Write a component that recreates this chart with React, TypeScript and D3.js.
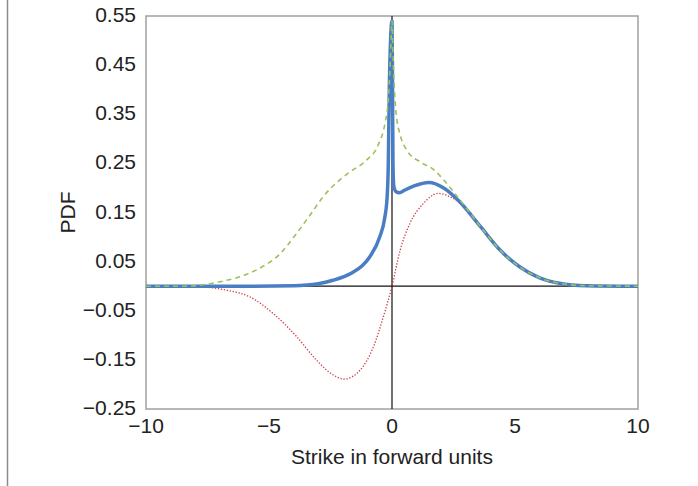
import React, { useRef, useEffect } from 'react';
import * as d3 from 'd3';

// Strike (forward units) / PDF values
const totalPdf: [number, number][] = [
  [-10, 0], [-6, 0], [-4, 0.001], [-3, 0.005], [-2.4, 0.012], [-1.6, 0.028],
  [-1.2, 0.042], [-0.9, 0.06], [-0.5, 0.1], [-0.3, 0.138], [-0.2, 0.18],
  [-0.15, 0.25], [-0.11, 0.4], [-0.05, 0.51], [0, 0.54], [0.02, 0.42],
  [0.04, 0.25], [0.07, 0.205], [0.15, 0.193], [0.3, 0.19], [0.5, 0.195],
  [0.9, 0.204], [1.5, 0.211], [2.1, 0.2], [2.75, 0.172], [3.6, 0.121],
  [4.4, 0.073], [5.2, 0.039], [6, 0.017], [6.8, 0.006], [7.9, 0.001], [10, 0],
];

const upperPdf: [number, number][] = [
  [-10, 0], [-8.5, 0], [-7.8, 0.002], [-7, 0.009], [-6.2, 0.019], [-5.4, 0.036],
  [-4.55, 0.066], [-3.9, 0.106], [-3.3, 0.147], [-2.8, 0.182], [-2.25, 0.211],
  [-1.7, 0.233], [-1.05, 0.256], [-0.55, 0.289], [-0.28, 0.333], [-0.15, 0.38],
  [-0.08, 0.446], [-0.03, 0.51], [0, 0.54], [0.03, 0.49], [0.08, 0.42],
  [0.15, 0.36], [0.35, 0.305], [0.6, 0.277], [1.14, 0.253], [1.68, 0.238],
  [2.0, 0.222], [2.63, 0.184], [3.6, 0.121], [4.4, 0.073], [5.2, 0.039],
  [6, 0.017], [6.8, 0.006], [7.9, 0.001], [10, 0],
];

const lowerPdf: [number, number][] = [
  [-10, 0], [-8.5, 0], [-7.8, -0.001], [-6.86, -0.007], [-5.77, -0.022],
  [-4.82, -0.056], [-3.87, -0.103], [-3.06, -0.151], [-2.38, -0.181],
  [-1.95, -0.189], [-1.3, -0.171], [-0.76, -0.124], [-0.35, -0.062], [0, 0],
  [0.33, 0.073], [0.73, 0.128], [1.27, 0.168], [1.88, 0.189], [2.36, 0.182],
  [2.75, 0.17], [3.6, 0.121], [4.4, 0.073], [5.2, 0.039], [6, 0.017],
  [6.8, 0.006], [7.9, 0.001], [10, 0],
];

const xTicks = [-10, -5, 0, 5, 10];
const yTicks = [0.55, 0.45, 0.35, 0.25, 0.15, 0.05, -0.05, -0.15, -0.25];

const W = 698;
const H = 486;

const App = () => {
  const ref = useRef<SVGSVGElement>(null);

  useEffect(() => {
    if (!ref.current) return;
    const svg = d3.select(ref.current);
    svg.selectAll('*').remove();

    const font = '"Liberation Sans", Arial, Helvetica, sans-serif';
    const left = 146, right = 638, top = 16, bottom = 409;

    const x = d3.scaleLinear().domain([-10, 10]).range([left, right]);
    const y = d3.scaleLinear().domain([-0.25, 0.55]).range([bottom, top]);

    // page frame line on the left
    svg.append('line')
      .attr('x1', 7.5).attr('x2', 7.5).attr('y1', 0).attr('y2', H)
      .attr('stroke', '#8a8a8a').attr('stroke-width', 1.5);

    // plot box
    svg.append('rect')
      .attr('x', left).attr('y', top)
      .attr('width', right - left).attr('height', bottom - top)
      .attr('fill', 'none').attr('stroke', '#a0a0a0').attr('stroke-width', 1.5);

    // zero axes
    svg.append('line')
      .attr('x1', x(0)).attr('x2', x(0)).attr('y1', top).attr('y2', bottom)
      .attr('stroke', '#111').attr('stroke-width', 1.2);
    svg.append('line')
      .attr('x1', left).attr('x2', right).attr('y1', y(0)).attr('y2', y(0))
      .attr('stroke', '#111').attr('stroke-width', 1.2);

    const line = d3.line<[number, number]>()
      .x(d => x(d[0]))
      .y(d => y(d[1]))
      .curve(d3.curveMonotoneX);

    svg.append('path')
      .datum(lowerPdf)
      .attr('fill', 'none')
      .attr('stroke', '#d0393e')
      .attr('stroke-width', 1.3)
      .attr('stroke-dasharray', '1.3,1.7')
      .attr('d', line);

    svg.append('path')
      .datum(totalPdf)
      .attr('fill', 'none')
      .attr('stroke', '#4a7ec4')
      .attr('stroke-width', 3.5)
      .attr('stroke-linejoin', 'round')
      .attr('d', line);

    svg.append('path')
      .datum(upperPdf)
      .attr('fill', 'none')
      .attr('stroke', '#9cc05a')
      .attr('stroke-width', 1.6)
      .attr('stroke-dasharray', '5,4')
      .attr('d', line);

    const fs = 21;

    // y tick labels
    svg.append('g')
      .selectAll('text')
      .data(yTicks)
      .join('text')
      .attr('x', 136)
      .attr('y', d => y(d))
      .attr('dy', '0.29em')
      .attr('text-anchor', 'end')
      .attr('font-family', font)
      .attr('font-size', fs)
      .attr('fill', '#222')
      .text(d => (d < 0 ? '\u2212' + d3.format('.2f')(-d) : d3.format('.2f')(d)));

    // x tick labels
    svg.append('g')
      .selectAll('text')
      .data(xTicks)
      .join('text')
      .attr('x', d => x(d))
      .attr('y', 425.5)
      .attr('dy', '0.36em')
      .attr('text-anchor', 'middle')
      .attr('font-family', font)
      .attr('font-size', fs)
      .attr('fill', '#222')
      .text(d => (d < 0 ? '\u2212' + Math.abs(d) : String(d)));

    svg.append('text')
      .attr('x', x(0))
      .attr('y', 456)
      .attr('dy', '0.36em')
      .attr('text-anchor', 'middle')
      .attr('font-family', font)
      .attr('font-size', fs)
      .attr('fill', '#222')
      .text('Strike in forward units');

    svg.append('text')
      .attr('transform', 'translate(67.5,212.5) rotate(-90)')
      .attr('dy', '0.36em')
      .attr('text-anchor', 'middle')
      .attr('font-family', font)
      .attr('font-size', fs)
      .attr('fill', '#222')
      .text('PDF');
  }, []);

  return (
    <svg
      ref={ref}
      width={W}
      height={H}
      style={{ position: 'absolute', left: 0, top: 0, background: '#fff' }}
    />
  );
};

export default App;
